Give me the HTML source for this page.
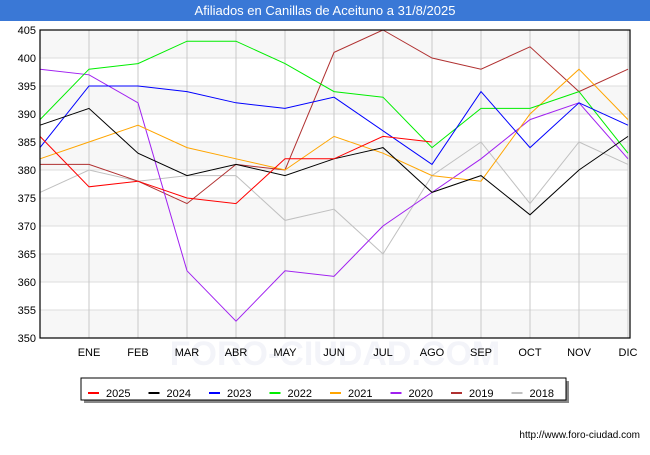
<!DOCTYPE html>
<html><head><meta charset="utf-8"><style>
body{margin:0;background:#fff;font-family:"Liberation Sans",sans-serif}
svg text{font-family:"Liberation Sans",sans-serif}
</style></head><body>
<svg id="c" width="650" height="450" xmlns="http://www.w3.org/2000/svg"></svg>
<script>
const months=["","ENE","FEB","MAR","ABR","MAY","JUN","JUL","AGO","SEP","OCT","NOV","DIC"];
const yTicks=[350,355,360,365,370,375,380,385,390,395,400,405];
const years=["2025","2024","2023","2022","2021","2020","2019","2018"];
const colors=["#ff0000","#000000","#0000ff","#00ee00","#ffa500","#a020f0","#b03030","#c0c0c0"];
const s2025=[386,377,378,375,374,382,382,386,385];
const s2024=[388,391,383,379,381,379,382,384,376,379,372,380,386];
const s2023=[384,395,395,394,392,391,393,387,381,394,384,392,388];
const s2022=[389,398,399,403,403,399,394,393,384,391,391,394,383];
const s2021=[382,385,388,384,382,380,386,383,379,378,390,398,389];
const s2020=[398,397,392,362,353,362,361,370,376,382,389,392,382];
const s2019=[381,381,378,374,381,380,401,405,400,398,402,394,398];
const s2018=[376,380,378,379,379,371,373,365,379,385,374,385,381];
const series=[s2025,s2024,s2023,s2022,s2021,s2020,s2019,s2018];
const L=40,R=628,T=30,B=338,ymin=350,ymax=405;
const xs=i=>L+i*(R-L)/12;
const ys=v=>B-(v-ymin)/(ymax-ymin)*(B-T);
const svg=document.getElementById('c');const NS="http://www.w3.org/2000/svg";
function mk(t,a,p){const e=document.createElementNS(NS,t);for(const k in a)e.setAttribute(k,a[k]);(p||svg).appendChild(e);return e;}
const tb=mk('rect',{x:0,y:0,width:650,height:21,fill:'#3a78d6'});


const tt=mk('text',{x:325,y:15,'text-anchor':'middle','font-size':13,fill:'#fff'});tt.textContent='Afiliados en Canillas de Aceituno a 31/8/2025';


for(let i=0;i<yTicks.length-1;i++){if(i%2==0){const b=mk('rect',{x:L,y:ys(yTicks[i+1]),width:R-L,height:ys(yTicks[i])-ys(yTicks[i+1]),fill:'#f7f7f7'});

}}
const wm=mk('text',{x:335,y:365,'text-anchor':'middle','font-size':34,fill:'#f3f4f9','font-weight':'bold'});wm.textContent='FORO-CIUDAD.COM';


yTicks.forEach(v=>{const g=mk('line',{x1:L,x2:R,y1:ys(v),y2:ys(v),stroke:'#dddddd'});


const t=mk('text',{x:L-4,y:ys(v)+4,'text-anchor':'end','font-size':11,fill:'#000'});t.textContent=v;

});
months.forEach((m,i)=>{if(i>0){const g=mk('line',{x1:xs(i),x2:xs(i),y1:T,y2:B,stroke:'#c8c8c8'});

}
const t=mk('text',{x:xs(i),y:B+18,'text-anchor':'middle','font-size':11,fill:'#000'});t.textContent=m;

});
for(let k=series.length-1;k>=0;k--){const p=mk('polyline',{points:series[k].map((v,i)=>xs(i)+','+ys(v)).join(' '),fill:'none',stroke:colors[k],'stroke-width':1});

}
const fr=mk('rect',{x:L,y:T,width:R-L+2,height:B-T,fill:'none',stroke:'#000','stroke-width':1.2});


const lg=mk('g',{});


mk('rect',{x:84,y:381,width:485,height:22,fill:'#888'},lg);
mk('rect',{x:81,y:378,width:485,height:22,fill:'#fff',stroke:'#000'},lg);
years.forEach((y,k)=>{const x=88+k*60.5;const l=mk('line',{x1:x,x2:x+11,y1:393,y2:393,stroke:colors[k],'stroke-width':2},lg);


const t=mk('text',{x:x+18,y:397,'font-size':11,fill:'#000'},lg);t.textContent=y;

});
const u=mk('text',{x:640,y:438,'text-anchor':'end','font-size':10,fill:'#000'});u.textContent='http://www.foro-ciudad.com';


</script>
</body></html>
